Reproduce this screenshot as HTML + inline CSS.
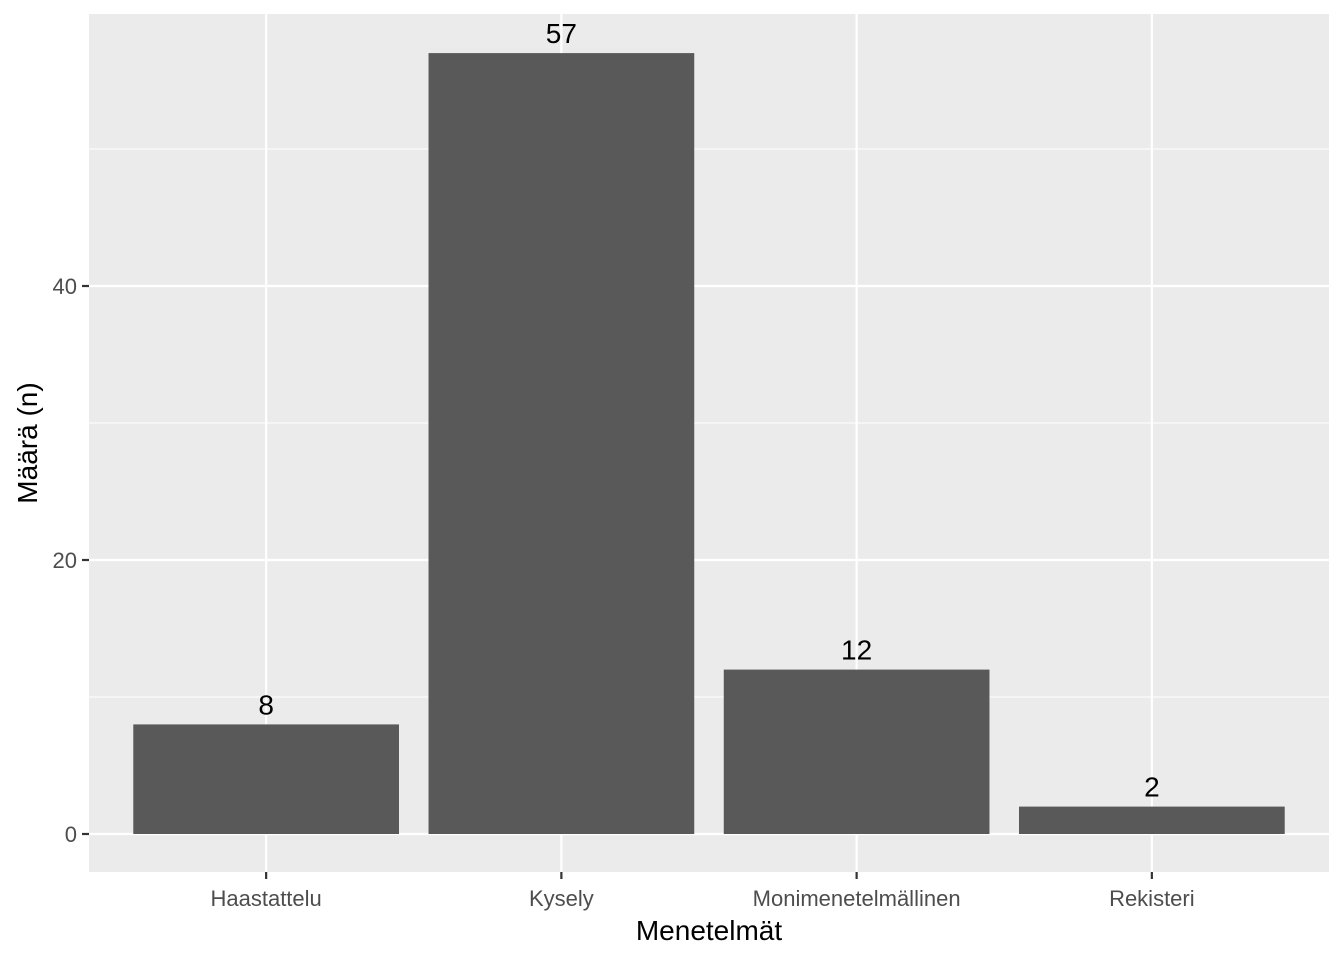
<!DOCTYPE html>
<html><head><meta charset="utf-8"><style>
body{margin:0;background:#fff;}
svg{display:block;font-family:"Liberation Sans",Arial,sans-serif;}
</style></head><body>
<svg id="chart" width="1344" height="960">
<rect x="89" y="14" width="1240" height="858" fill="#ebebeb"/>
<g id="grid"></g><g id="bars"></g><g id="axes"></g>
<text x="709" y="940" font-size="28" text-anchor="middle" fill="#000">Menetelmät</text>
<text transform="translate(37,443) rotate(-90)" font-size="28" text-anchor="middle" fill="#000">Määrä (n)</text>
</svg>
<script>
const categories = ["Haastattelu","Kysely","Monimenetelmällinen","Rekisteri"];
const values = [8,57,12,2];
const yTicks = [0,20,40];
const yMinor = [10,30,50];
const NS="http://www.w3.org/2000/svg";
const px0=89, px1=1329, y0=834, pxPerUnit=274/20;
const step=(px1-px0)/(categories.length+0.2);
function xs(i){return px0+step*(0.6+i);}
function ys(v){return y0-v*pxPerUnit;}
function mk(tag,attrs,parent){const e=document.createElementNS(NS,tag);for(const k in attrs)e.setAttribute(k,attrs[k]);parent.appendChild(e);return e;}
const grid=document.getElementById('grid'),bars=document.getElementById('bars'),axes=document.getElementById('axes');
yMinor.forEach(v=>{const l=mk('line',{x1:px0,x2:px1,y1:ys(v),y2:ys(v),stroke:'#fff','stroke-width':1.1},grid);

});
yTicks.forEach(v=>{const l=mk('line',{x1:px0,x2:px1,y1:ys(v),y2:ys(v),stroke:'#fff','stroke-width':2.2},grid);


const t=mk('line',{x1:px0-7,x2:px0,y1:ys(v),y2:ys(v),stroke:'#333','stroke-width':2.2},axes);


const tx=mk('text',{x:px0-12,y:ys(v)+8,'font-size':22,'text-anchor':'end',fill:'#4d4d4d'},axes);tx.textContent=v;

});
categories.forEach((c,i)=>{const x=xs(i);
const g=mk('line',{x1:x,x2:x,y1:14,y2:872,stroke:'#fff','stroke-width':2.2},grid);


const w=step*0.9;
const b=mk('rect',{x:x-w/2,y:ys(values[i]),width:w,height:y0-ys(values[i]),fill:'#595959'},bars);


const lb=mk('text',{x:x,y:ys(values[i])-10,'font-size':28,'text-anchor':'middle',fill:'#000'},bars);lb.textContent=values[i];


const t=mk('line',{x1:x,x2:x,y1:872,y2:879,stroke:'#333','stroke-width':2.2},axes);


const tx=mk('text',{x:x,y:906,'font-size':22,'text-anchor':'middle',fill:'#4d4d4d'},axes);tx.textContent=c;

});
</script>
</body></html>
